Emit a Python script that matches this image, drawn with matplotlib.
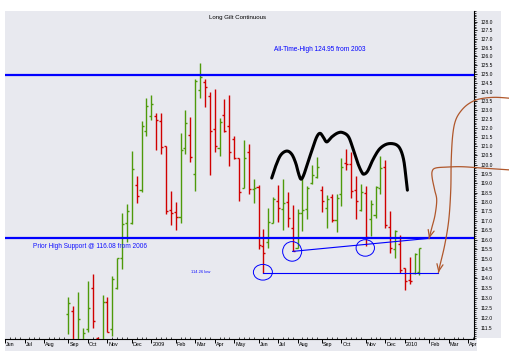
import numpy as np
import pandas as pd
import matplotlib
matplotlib.use('Agg')
import matplotlib.pyplot as plt
from matplotlib.patches import Rectangle, Ellipse
from matplotlib.ticker import FixedLocator, NullFormatter, FuncFormatter
from matplotlib.transforms import Bbox, TransformedBbox

plt.rcParams['font.family'] = ['Liberation Sans', 'DejaVu Sans']

# ---------------- data ----------------
axis_start = '2008-06-07'      # first weekly slot on the time axis
n_axis_weeks = 97
first_bar = '2008-09-06'       # first weekly bar

opens = [112.17, 112.34, 110.60, 110.60, 111.44, 113.49, 111.00, 110.60, 112.81, 111.42,
         113.49, 115.07, 116.87, 116.87, 118.92, 118.64, 121.82, 122.69, 122.66, 122.39,
         121.00, 117.56, 117.45, 117.21, 120.89, 121.62, 119.48, 124.11, 124.55, 123.77,
         121.92, 120.89, 122.70, 122.10, 121.41, 120.34, 118.74, 120.69, 118.67, 118.81,
         115.67, 115.89, 116.87, 118.05, 117.63, 117.98, 116.64, 115.59, 117.39, 117.63,
         118.99, 119.32, 118.64, 117.66, 118.28, 117.04, 118.42, 120.10, 120.02, 118.64,
         117.57, 118.48, 117.10, 117.30, 118.72, 119.89, 116.69, 115.50, 115.78, 114.52,
         113.92, 114.26, 114.35]
highs = [113.05, 112.59, 113.30, 111.50, 113.87, 114.24, 111.03, 113.15, 113.05, 114.14,
         115.07, 117.41, 117.89, 120.74, 119.41, 122.39, 123.68, 123.83, 122.83, 122.85,
         121.00, 118.58, 117.99, 121.74, 122.99, 122.62, 124.72, 125.64, 124.72, 124.01,
         124.15, 122.54, 123.60, 123.83, 121.56, 120.34, 121.35, 121.10, 119.22, 118.90,
         116.57, 117.68, 118.26, 118.90, 119.22, 118.55, 117.83, 117.63, 119.22, 118.85,
         119.98, 120.39, 118.85, 118.37, 118.41, 118.41, 120.37, 120.84, 120.71, 119.39,
         118.94, 118.85, 118.10, 118.85, 120.45, 120.25, 117.52, 116.51, 116.25, 114.52,
         115.11, 115.29, 115.59]
lows = [111.19, 110.45, 110.40, 110.40, 111.30, 111.47, 110.40, 110.40, 111.26, 111.09,
        113.44, 114.47, 115.90, 116.82, 117.96, 118.52, 121.58, 122.43, 120.80, 120.60,
        117.38, 116.78, 116.51, 116.87, 120.56, 120.16, 118.59, 123.68, 123.14, 119.46,
        120.71, 120.48, 121.79, 119.92, 120.30, 118.06, 118.72, 118.44, 117.92, 115.52,
        114.26, 115.56, 116.87, 116.95, 116.51, 116.69, 115.40, 115.56, 116.46, 117.08,
        118.94, 119.29, 117.48, 116.61, 116.95, 116.43, 117.79, 119.71, 118.19, 117.08,
        117.52, 115.68, 116.20, 117.14, 118.44, 116.64, 115.33, 115.04, 114.26, 113.39,
        113.74, 114.21, 114.17]
closes = [112.73, 110.65, 111.92, 111.25, 112.47, 111.84, 110.60, 112.79, 111.29, 113.97,
          115.07, 116.81, 117.51, 119.75, 118.31, 122.11, 123.20, 123.32, 122.42, 120.96,
          117.51, 117.41, 117.21, 120.80, 122.29, 120.44, 124.62, 124.86, 124.28, 121.83,
          121.01, 122.33, 121.84, 120.67, 120.34, 118.52, 120.34, 118.71, 118.72, 115.71,
          115.30, 116.94, 118.17, 117.66, 117.92, 117.14, 115.40, 117.39, 117.57, 118.72,
          119.44, 119.89, 118.05, 118.14, 117.04, 118.19, 119.89, 120.03, 118.59, 118.06,
          118.55, 116.15, 117.87, 118.79, 119.80, 116.77, 115.56, 116.48, 114.43, 113.88,
          113.88, 115.24, 115.56]

ath_level = 124.95
support_level = 116.08
low_level = 114.26

title = 'Long Gilt Continuous'
ath_text = 'All-Time-High 124.95 from 2003'
support_text = 'Prior High Support @ 116.08 from 2006'
low_text = '114.26 low'

# hand-drawn annotations (week slot, price)
hs_x = [54.71, 55.53, 56.55, 57.78, 58.81, 59.63, 60.25, 60.72, 61.27, 62.09, 63.12, 63.94,
        64.62, 65.27, 65.99, 67.02, 68.25, 69.27, 70.44, 71.33, 72.35, 73.17, 73.64, 74.4,
        75.43, 76.66, 77.89, 79.1, 80.35, 81.16, 81.78, 82.19, 82.54]
hs_y = [119.28, 119.93, 120.52, 120.74, 120.57, 120.09, 119.49, 119.22, 119.44, 120.09,
        120.91, 121.51, 121.71, 121.51, 121.24, 121.51, 121.73, 121.75, 121.53, 120.91,
        120.09, 119.60, 119.49, 119.66, 120.25, 120.80, 121.07, 121.15, 121.07, 120.80,
        120.25, 119.44, 118.63]
arrow1_x = [103.94, 100.45, 97.37, 95.32, 93.68, 92.45, 91.84, 91.53, 91.43, 91.02, 90.19, 89.17, 88.9]
arrow1_y = [123.64, 123.70, 123.61, 123.38, 122.99, 122.44, 121.62, 120.25, 118.63, 117.04, 115.73, 114.63, 114.30]
arrow2_x = [103.94, 97.78, 93.68, 90.6, 88.35, 87.63, 87.63, 88.14, 88.55, 88.2, 87.53, 86.97]
arrow2_y = [119.71, 119.82, 119.89, 119.87, 119.82, 119.65, 119.28, 118.63, 118.10, 117.30, 116.62, 116.07]
low_line_end = 88.9
trend_end = 86.97
circles = [(52.9, 114.32, 3.9, 0.81), (58.9, 115.40, 3.9, 1.02), (73.9, 115.58, 3.77, 0.86)]


def smooth(px, py, n=10):
    P = np.column_stack([px, py]).astype(float)
    P = np.vstack([P[0], P, P[-1]])
    out = []
    t = np.linspace(0, 1, n, endpoint=False)[:, None]
    for i in range(1, len(P) - 2):
        p0, p1, p2, p3 = P[i - 1], P[i], P[i + 1], P[i + 2]
        out.append(0.5 * (2 * p1 + (-p0 + p2) * t + (2 * p0 - 5 * p1 + 4 * p2 - p3) * t ** 2
                          + (-p0 + 3 * p1 - 3 * p2 + p3) * t ** 3))
    out.append(P[-2][None, :])
    out = np.vstack(out)
    return out[:, 0], out[:, 1]


# ---------------- figure ----------------
W, H = 510, 360
fig = plt.figure(figsize=(W / 100, H / 100), dpi=100)
bg = '#E8E9EF'
fig.add_artist(Rectangle((5 / W, 1 - 338 / H), 496 / W, 327 / H, transform=fig.transFigure,
                         fc=bg, ec='none', zorder=-10))
fig.add_artist(Rectangle((5 / W, 1 - 351 / H), 472 / W, 13 / H, transform=fig.transFigure,
                         fc=bg, ec='none', zorder=-10))
ax = fig.add_axes([5 / W, 1 - 339 / H, 469 / W, 328 / H])
ax.set_facecolor(bg)

weeks = pd.date_range(axis_start, periods=n_axis_weeks, freq='W-SAT')
dates = pd.date_range(first_bar, periods=len(opens), freq='W-SAT')
x = weeks.get_indexer(dates).astype(float)

up, down = '#4E9A0A', '#D00000'
cols = [up if c >= o else down for o, c in zip(opens, closes)]
tick = 0.42
ax.vlines(x, lows, highs, colors=cols, lw=1.0, zorder=3)
ax.hlines(opens, x - tick, x, colors=cols, lw=1.0, zorder=3)
ax.hlines(closes, x, x + tick, colors=cols, lw=1.0, zorder=3)

blue = '#0000FF'
ax.axhline(ath_level, color=blue, lw=1.6, zorder=4)
ax.axhline(support_level, color=blue, lw=1.6, zorder=4)
ax.plot([x[40], low_line_end], [low_level, low_level], color=blue, lw=0.8, zorder=4)
ax.plot([x[46], trend_end], [lows[46], support_level], color=blue, lw=0.8, zorder=4)
for cx, cy, w, h in circles:
    ax.add_patch(Ellipse((cx, cy), w, h, fill=False, ec=blue, lw=0.7, zorder=5))

sx, sy = smooth(hs_x, hs_y)
ax.plot(sx, sy, color='black', lw=2.2, solid_capstyle='round', zorder=6)

brown = '#B0572B'
for axs, ays in [(arrow1_x, arrow1_y), (arrow2_x, arrow2_y)]:
    bx, by = smooth(axs, ays)
    ax.plot(bx, by, color=brown, lw=0.9, clip_on=False, zorder=7)
    ax.annotate('', xy=(axs[-1], ays[-1]), xytext=(bx[-4], by[-4]),
                arrowprops=dict(arrowstyle='->,head_length=0.5,head_width=0.22', color=brown,
                                lw=0.9, shrinkA=0, shrinkB=0), annotation_clip=False, zorder=7)

ax.text(0.4968, 0.9817, title, transform=ax.transAxes, ha='center', va='center', fontsize=4.4)
ax.text(55.1, 126.42, ath_text, color=blue, ha='left', va='center', fontsize=4.7)
ax.text(5.68, 115.67, support_text, color='#1010FF', ha='left', va='center', fontsize=4.7)
ax.text(38.09, 114.31, low_text, color='#1010FF', ha='left', va='center', fontsize=3.0)

# ---------------- axes ----------------
ax.set_yscale('log')
ax.set_ylim(110.93, 128.61)
ax.set_xlim(0, 96.2)
ax.yaxis.tick_right()
ax.yaxis.set_major_locator(FixedLocator(np.round(np.arange(111.5, 128.01, 0.5), 1)))
ax.yaxis.set_minor_locator(FixedLocator(np.round(np.arange(111.0, 128.61, 0.1), 1)))
ax.yaxis.set_major_formatter(FuncFormatter(lambda v, p: f'{v:.1f}'))
ax.yaxis.set_minor_formatter(NullFormatter())
ax.tick_params(axis='y', which='major', direction='out', length=2.4, width=0.6, pad=2.6,
               labelsize=3.5, colors='black')
ax.tick_params(axis='y', which='minor', direction='out', length=1.2, width=0.5)

month_idx = [i for i in range(len(weeks)) if i == 0 or weeks[i].month != weeks[i - 1].month]
ax.xaxis.set_major_locator(FixedLocator(month_idx))
ax.xaxis.set_minor_locator(FixedLocator(list(range(len(weeks)))))
ax.tick_params(axis='x', which='major', direction='out', length=3, width=0.7, labelbottom=False)
ax.tick_params(axis='x', which='minor', direction='in', length=1.8, width=0.5)
clipbox = TransformedBbox(Bbox([[0, 0], [477 / W, 1]]), fig.transFigure)
for i in month_idx:
    d = weeks[i]
    lab = str(d.year) if d.month == 1 else d.strftime('%b')
    t = ax.text(i + 0.25, -0.010, lab, transform=ax.get_xaxis_transform(), ha='left', va='top',
                fontsize=3.9, clip_on=True)
    t.set_clip_box(clipbox)

for s in ['left', 'top']:
    ax.spines[s].set_visible(False)
for s in ['bottom', 'right']:
    ax.spines[s].set_linewidth(0.8)

fig.savefig('out.png', dpi=100)
